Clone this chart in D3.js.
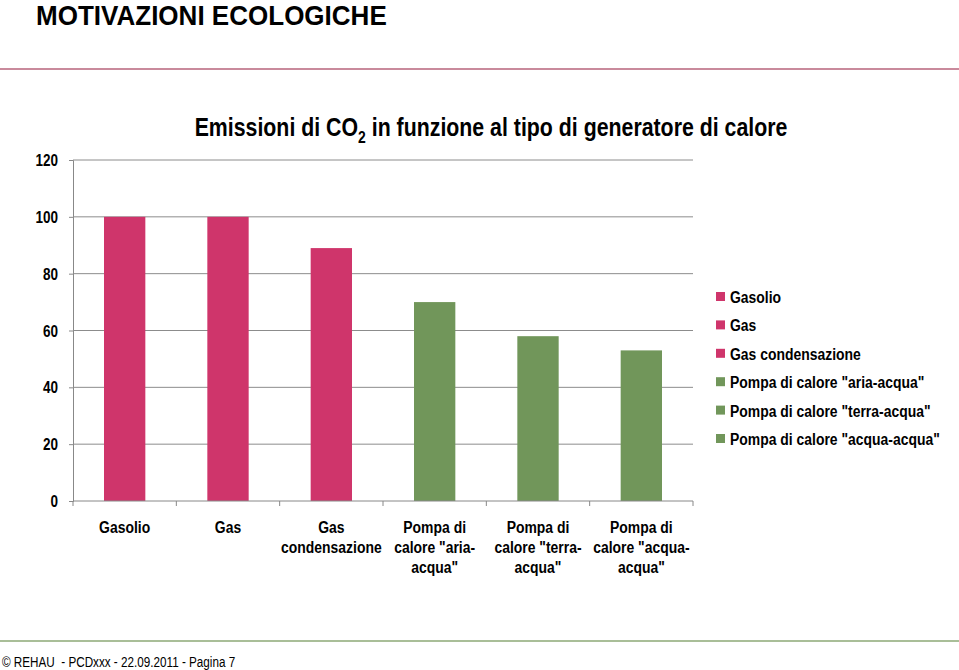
<!DOCTYPE html>
<html><head><meta charset="utf-8">
<script src="https://cdn.jsdelivr.net/npm/d3@7"></script>
<style>
body{margin:0;background:#fff;}
svg{display:block;}
text{font-family:"Liberation Sans",Arial,sans-serif;white-space:pre;}
</style></head><body>
<svg id="c" width="959" height="670"></svg>
<script>
const categories = ["Gasolio","Gas","Gas condensazione","Pompa di calore \"aria-acqua\"","Pompa di calore \"terra-acqua\"","Pompa di calore \"acqua-acqua\""];
const axisLabels = [["Gasolio"],["Gas"],["Gas","condensazione"],["Pompa di","calore \"aria-","acqua\""],["Pompa di","calore \"terra-","acqua\""],["Pompa di","calore \"acqua-","acqua\""]];
const values = [100,100,89,70,58,53];
const groups = ["fossil","fossil","fossil","heatpump","heatpump","heatpump"];
const yTicks = [0,20,40,60,80,100,120];
const colors = {fossil:"#CF356B", heatpump:"#71965A"};

const NARROW = 0.82;
const svg = d3.select("#c");
svg.append("rect").attr("width",959).attr("height",670).attr("fill","#fff");

function ntext(parent, x, y, opts){
  const g = parent.append("g").attr("transform",`translate(${x},${y}) scale(${opts.sx||NARROW},1)`);
  const t = g.append("text").attr("x",0).attr("y",0)
    .attr("text-anchor",opts.anchor||"start")
    .attr("font-size",opts.size||16)
    .attr("font-weight",opts.weight||"normal")
    .attr("fill","#000");
  if (opts.text!==undefined) t.text(opts.text);
  return t;
}

ntext(svg, 36, 25, {size:28, weight:"bold", sx:0.93, text:"MOTIVAZIONI ECOLOGICHE"});
svg.append("line").attr("x1",0).attr("x2",959).attr("y1",69).attr("y2",69).attr("stroke","#C98A9C").attr("stroke-width",2);
svg.append("line").attr("x1",0).attr("x2",959).attr("y1",641).attr("y2",641).attr("stroke","#A9BE98").attr("stroke-width",2);
ntext(svg, 2, 667, {size:15, sx:0.78, text:"© REHAU  - PCDxxx - 22.09.2011 - Pagina 7"});

const t = ntext(svg, 491, 136, {size:26, weight:"bold", anchor:"middle"});
t.append("tspan").text("Emissioni di CO");
t.append("tspan").attr("font-size",17).attr("dy",7).text("2");
t.append("tspan").attr("dy",-7).text(" in funzione al tipo di generatore di calore");

const x0 = 73, x1 = 693, yTop = 160, yBot = 501;
const x = d3.scaleBand().domain(categories).range([x0,x1]).paddingInner(0.6).paddingOuter(0.3);
const y = d3.scaleLinear().domain([0,120]).range([yBot,yTop]);

// y axis
const gAxisY = svg.append("g").attr("transform",`translate(${x0},0)`)
  .call(d3.axisLeft(y).tickValues(yTicks).tickSize(4));
gAxisY.select(".domain").attr("stroke","#888");
gAxisY.selectAll(".tick line").attr("stroke","#888");
gAxisY.selectAll(".tick text").remove();
yTicks.forEach(v=>{
  ntext(svg, x0-15, y(v)+6, {size:16.5, weight:"bold", anchor:"end", text:String(v)});
});
svg.append("g").selectAll("line").data(yTicks.filter(d=>d>0)).join("line")
  .attr("x1",x0).attr("x2",x1).attr("y1",d=>y(d)).attr("y2",d=>y(d)).attr("stroke","#8C8C8C").attr("stroke-width",1);

// bars
svg.append("g").selectAll("rect").data(categories).join("rect")
  .attr("x",d=>x(d)).attr("width",x.bandwidth())
  .attr("y",(d,i)=>y(values[i])).attr("height",(d,i)=>yBot-y(values[i]))
  .attr("fill",(d,i)=>colors[groups[i]]);

// x axis
const gx = svg.append("g").attr("transform",`translate(0,${yBot})`);
gx.append("line").attr("x1",x0).attr("x2",x1).attr("stroke","#888");
const bounds = d3.range(categories.length+1).map(i=>x0 + i*(x1-x0)/categories.length);
gx.selectAll("line.t").data(bounds).join("line").attr("class","t")
  .attr("x1",d=>d).attr("x2",d=>d).attr("y1",0).attr("y2",5).attr("stroke","#888");
categories.forEach((c,i)=>{
  const cx = x(c)+x.bandwidth()/2;
  const tt = ntext(svg, cx, yBot+32, {size:17, weight:"bold", anchor:"middle"});
  axisLabels[i].forEach((l,j)=>tt.append("tspan").attr("x",0).attr("dy",j===0?0:20).text(l));
});

// legend
const lg = svg.append("g").attr("transform","translate(716,297)");
categories.forEach((c,i)=>{
  const g = lg.append("g").attr("transform",`translate(0,${i*28.4})`);
  g.append("rect").attr("x",0).attr("y",-5).attr("width",9).attr("height",9).attr("fill",colors[groups[i]]);
  ntext(g, 14, 6, {size:17, weight:"bold", text:c});
});
</script>
</body></html>
